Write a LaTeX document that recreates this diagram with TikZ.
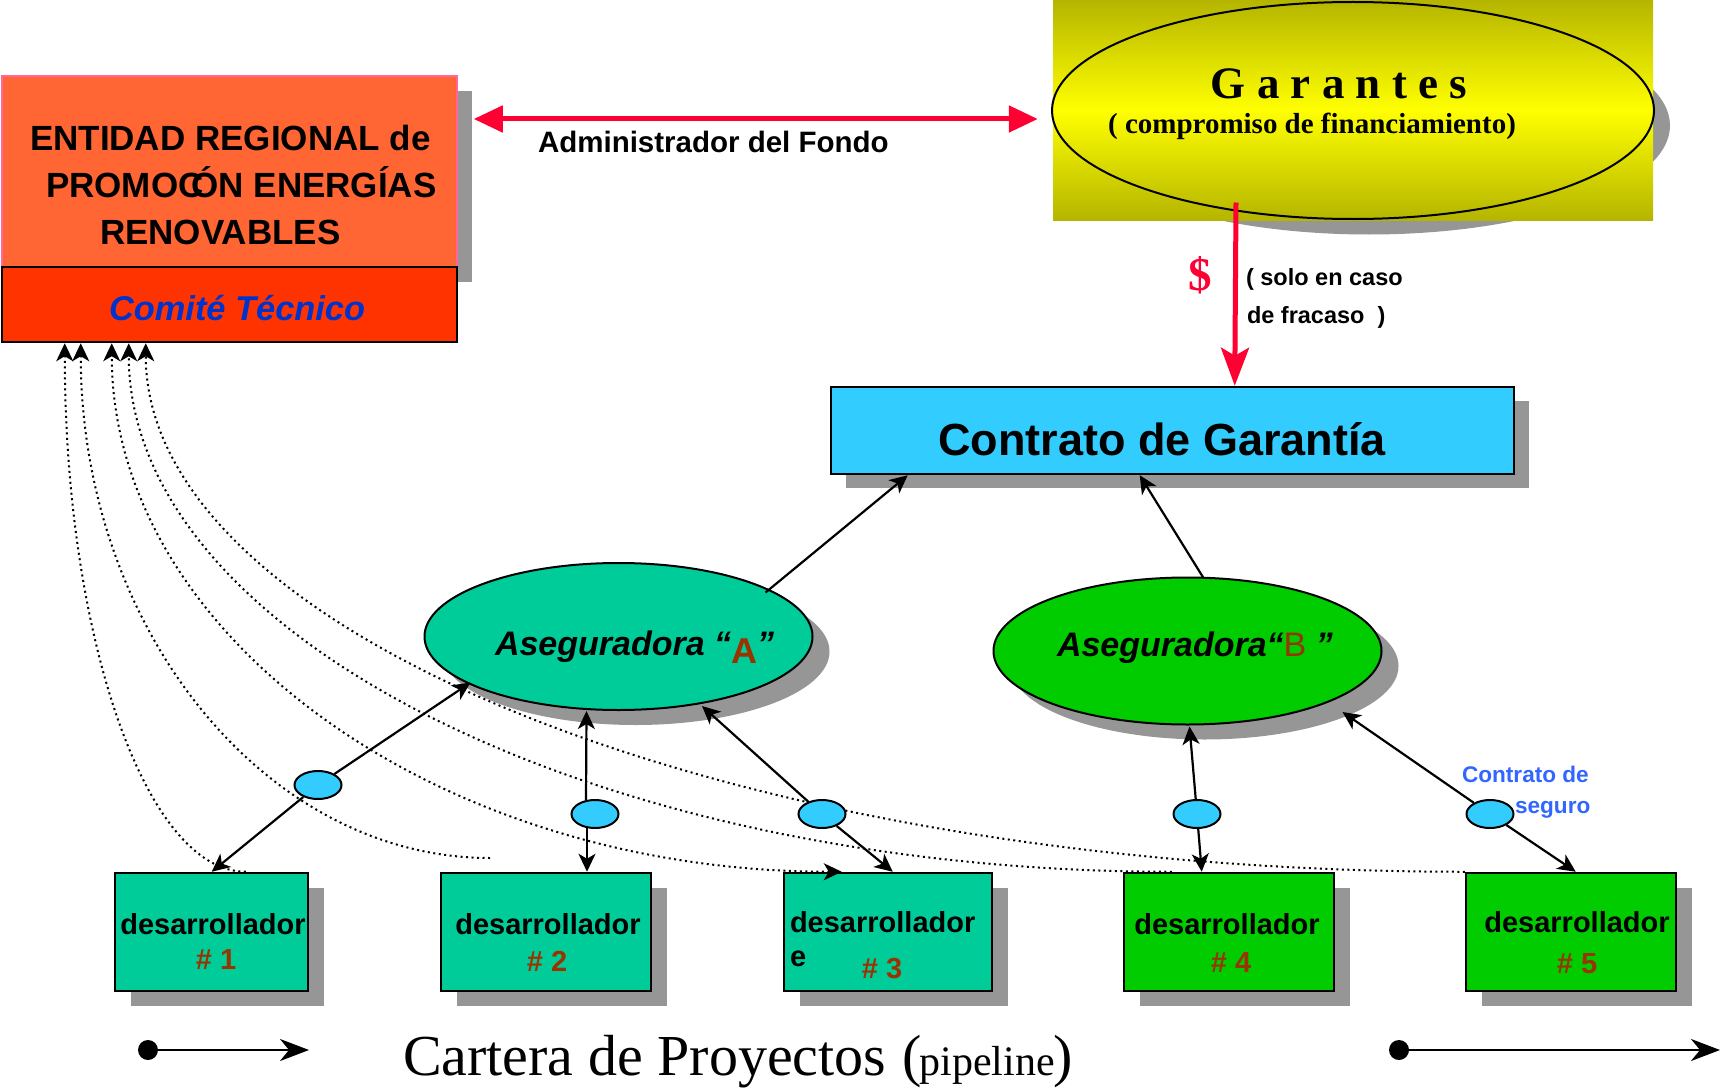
\documentclass[tikz,border=0pt]{standalone}
\usepackage{fontspec}
\setmainfont{Liberation Sans}
\newfontfamily\timesf{Liberation Serif}
\usetikzlibrary{arrows.meta,shapes.geometric,calc,shadows}
\definecolor{orangeE}{HTML}{FF6633}
\definecolor{pinkE}{HTML}{FF6699}
\definecolor{redC}{HTML}{FF3300}
\definecolor{blueC}{HTML}{0033CC}
\definecolor{shadowg}{HTML}{969696}
\definecolor{redA}{HTML}{FF0033}
\definecolor{cyanC}{HTML}{33CCFF}
\definecolor{tealA}{HTML}{00CC99}
\definecolor{greenB}{HTML}{00CC00}
\definecolor{brownT}{HTML}{993300}
\definecolor{blueL}{HTML}{3366FF}
\definecolor{oliveD}{HTML}{B5B500}
\definecolor{yellowM}{HTML}{FFFF00}
\newcommand\fsz[1]{\fontsize{#1pt}{#1pt}\selectfont}
\begin{document}
\begin{tikzpicture}[x=1pt,y=-1pt,
  txt/.style={inner sep=0pt, outer sep=0pt},
  shad/.style={general shadow={fill=shadowg, shadow xshift=#1pt, shadow yshift=-15pt}},
  shad/.default=16,
  devbox/.style={draw=black, line width=2.5pt, inner sep=0pt, minimum height=118pt, shad},
  bigell/.style={ellipse, draw=black, line width=2pt, inner sep=0pt, minimum width=388pt, minimum height=147pt, shad=17},
  oval/.style={ellipse, draw=black, line width=2pt, fill=cyanC, minimum width=47pt, minimum height=28pt, inner sep=0pt},
  conn/.style={line width=2.2pt, draw=black, -{Stealth[length=18pt,width=17pt,inset=5pt]}},
  dotc/.style={line width=2pt, dash pattern=on 2pt off 3.5pt, -{Stealth[length=18pt,width=17pt,inset=5pt]}},
  redarr/.style={draw=redA, line width=5pt},
  devtxt/.style={txt, anchor=base, font=\fsz{29}\bfseries},
  numtxt/.style={txt, anchor=base, text=brownT, font=\fsz{29}\bfseries}
]
\useasboundingbox (0,0) rectangle (1721,1089);

% ---------- Entidad ----------
\node[draw=pinkE, line width=1.5pt, fill=orangeE, minimum width=455pt, minimum height=191pt, inner sep=0pt, shad=15] (entidad) at (229.5,171.5) {};
\node[draw=black, line width=2.5pt, fill=redC, minimum width=455pt, minimum height=75pt, inner sep=0pt] (comite) at (229.5,304.5) {};
\node[txt, anchor=base west] (ent1) at (30,150) {\fsz{35}\bfseries ENTIDAD REGIONAL de};
\node[txt, anchor=base west] (ent2) at (46,197) {\fsz{35}\bfseries PROMOC\kern-12ptÓN ENERGÍAS};
\node[txt, anchor=base west] (ent3) at (100,244) {\fsz{35}\bfseries RENOVABLES};
\node[txt, anchor=base west, text=blueC] (comtxt) at (109,320) {\fsz{34.4}\bfseries\itshape Comité Técnico};

% ---------- Garantes ----------
\node[ellipse, fill=shadowg, minimum width=602pt, minimum height=218pt, inner sep=0pt] (garshadow) at (1369,125.5) {};
\node[minimum width=600pt, minimum height=220pt, inner sep=0pt, top color=oliveD, bottom color=oliveD, middle color=yellowM] (garrect) at (1353,110) {};
\node[ellipse, draw=black, line width=2pt, minimum width=602pt, minimum height=217pt, inner sep=0pt] (garantes) at (1353,110.5) {};
\node[txt, anchor=base] (gartxt) at (1339,99) {\timesf\fsz{45}\bfseries G a r a n t e s};
\node[txt, anchor=base] (gartxt2) at (1312,134) {\timesf\fsz{29}\bfseries ( compromiso de financiamiento)};

% ---------- Contrato ----------
\node[draw=black, line width=2.5pt, fill=cyanC, minimum width=683pt, minimum height=87pt, inner sep=0pt, general shadow={fill=shadowg, shadow xshift=15pt, shadow yshift=-14pt}] (contrato) at (1172.5,430.5) {};
\node[txt, anchor=base] (contxt) at (1162,455) {\fsz{45}\bfseries Contrato de Garantía};

% ---------- Aseguradoras ----------
\node[bigell, fill=tealA] (asegA) at (618.5,636.5) {};
\node[bigell, fill=greenB] (asegB) at (1187.5,651) {};

% ---------- Desarrolladores ----------
\node[devbox, fill=tealA, minimum width=193pt] (d1) at (211.5,932) {};
\node[devbox, fill=tealA, minimum width=210pt] (d2) at (546,932) {};
\node[devbox, fill=tealA, minimum width=208pt] (d3) at (888,932) {};
\node[devbox, fill=greenB, minimum width=210pt] (d4) at (1229,932) {};
\node[devbox, fill=greenB, minimum width=210pt] (d5) at (1571,932) {};

% ---------- dotted curves to Comite ----------
\coordinate (c2end) at (490,858);
\draw[dotc] ($(d1.north west)+(132,0)$) .. controls ($(d1.north west)+(32,0)$) and ($(comite.south west)+(64,293)$) .. ($(comite.south west)+(64,0)$);
\draw[dotc] (c2end) .. controls (265,858) and ($(comite.south west)+(80,285)$) .. ($(comite.south west)+(80,0)$);
\draw[dotc, {Stealth[length=18pt,width=17pt,inset=5pt]}-{Stealth[length=18pt,width=17pt,inset=5pt]}] ($(d3.north west)+(59,0)$) .. controls ($(d3.north west)+(-344,0)$) and ($(comite.south west)+(111,293)$) .. ($(comite.south west)+(111,0)$);
\draw[dotc] ($(d4.north west)+(49,0)$) .. controls ($(d4.north west)+(-527,0)$) and ($(comite.south west)+(128,293)$) .. ($(comite.south west)+(128,0)$);
\draw[dotc] (d5.north west) .. controls ($(d5.north west)+(-728,0)$) and ($(comite.south west)+(145,293)$) .. ($(comite.south west)+(145,0)$);

% ---------- contract label ----------
\node[txt, anchor=base west, text=blueL] (cslab1) at (1462,782) {\fsz{22.6}\bfseries Contrato de};
\node[txt, anchor=base west, text=blueL] (cslab2) at (1515,813) {\fsz{22.6}\bfseries seguro};

% ---------- small ovals ----------
\node[oval] (e1) at (318,785) {};
\node[oval] (e2) at (595,814) {};
\node[oval] (e3) at (822,814) {};
\node[oval] (e4) at (1197,814) {};
\node[oval] (e5) at (1490,814) {};

% ---------- connectors ----------
\draw[conn] ($(asegA.center)+(147,-44)$) -- ($(contrato.south west)+(78,0)$);
\draw[conn] ($(asegB.center)+(16,-73)$) -- ($(contrato.south west)+(310,0)$);
\draw[conn] (e1) -- ($(asegA.center)+(-148,46)$);
\draw[conn] (e1) -- ($(d1.north west)+(98,0)$);
\draw[conn] ($(e2.north)+(-9,1)$) -- ($(asegA.south)+(-32,0)$);
\draw[conn] ($(e2.south)+(-8,-1)$) -- ($(d2.north)+(41,0)$);
\draw[conn] (e3) -- ($(asegA.center)+(83.5,69.5)$);
\draw[conn] (e3) -- ($(d3.north west)+(110,0)$);
\draw[conn] (e4) -- ($(asegB.south)+(2,1)$);
\draw[conn] (e4) -- ($(d4.north west)+(79,0)$);
\draw[conn] (e5) -- ($(asegB.center)+(155,61)$);
\draw[conn] (e5) -- ($(d5.north west)+(111,0)$);

% ---------- red arrows ----------
\draw[redarr, {Triangle[length=29pt,width=26pt]}-{Triangle[length=29pt,width=26pt]}] ($(entidad.east)+(16,-52.5)$) -- ($(garrect.west)+(-15,9)$);
\node[txt, anchor=base west] (admtxt) at (538,153) {\fsz{29.5}\bfseries Administrador del Fondo};
\draw[redarr, -{Stealth[length=38pt,width=28pt,inset=8pt]}] ($(garantes.center)+(-117,92)$) -- ($(contrato.north west)+(405,0)$);
\node[txt, anchor=base, text=redA] (dollar) at (1200,290) {\timesf\fsz{47}\bfseries \$};
\node[txt, anchor=base west] (solo1) at (1246,285) {\fsz{23.5}\bfseries ( solo en caso};
\node[txt, anchor=base west] (solo2) at (1247,323) {\fsz{23.5}\bfseries de fracaso\ \ )};

% ---------- texts in ellipses ----------
\node[txt, anchor=base west] (asegAtxt) at (495,655) {\fsz{34}\bfseries\itshape Aseguradora “{\upshape\fsz{36}\color{brownT}\raisebox{-8pt}{A}}”};
\node[txt, anchor=base west] (asegBtxt) at (1057,656) {\fsz{34}\bfseries\itshape Aseguradora“{\mdseries\upshape\color{brownT}B} ”};

% ---------- texts in boxes ----------
\node[devtxt] (d1a) at (213,934) {desarrollador};
\node[numtxt] (d1b) at (216,969) {\# 1};
\node[devtxt] (d2a) at (548,934) {desarrollador};
\node[numtxt] (d2b) at (547,971) {\# 2};
\node[devtxt, anchor=base west] (d3a) at (790,932) {desarrollador};
\node[devtxt, anchor=base west] (d3e) at (790,966) {e};
\node[numtxt] (d3b) at (882,978) {\# 3};
\node[devtxt] (d4a) at (1227,934) {desarrollador};
\node[numtxt] (d4b) at (1231,972) {\# 4};
\node[devtxt] (d5a) at (1577,932) {desarrollador};
\node[numtxt] (d5b) at (1577,973) {\# 5};

% ---------- pipeline ----------
\node[circle, fill=black, minimum size=20pt, inner sep=0pt] (pdotL) at (148,1050) {};
\coordinate (pendL) at (309,1050);
\draw[line width=2.5pt, -{Stealth[length=29pt,width=22pt,inset=9pt]}] (pdotL.center) -- (pendL);
\node[circle, fill=black, minimum size=20pt, inner sep=0pt] (pdotR) at (1399,1050) {};
\coordinate (pendR) at (1720,1050);
\draw[line width=2.5pt, -{Stealth[length=29pt,width=22pt,inset=9pt]}] (pdotR.center) -- (pendR);
\node[txt, anchor=base west] (cartera) at (403,1075) {\timesf\fsz{58}Cartera de Proyectos\hspace{16pt}(\kern-2pt{\fsz{42}pipeline}\kern-1pt)};
\end{tikzpicture}
\end{document}
